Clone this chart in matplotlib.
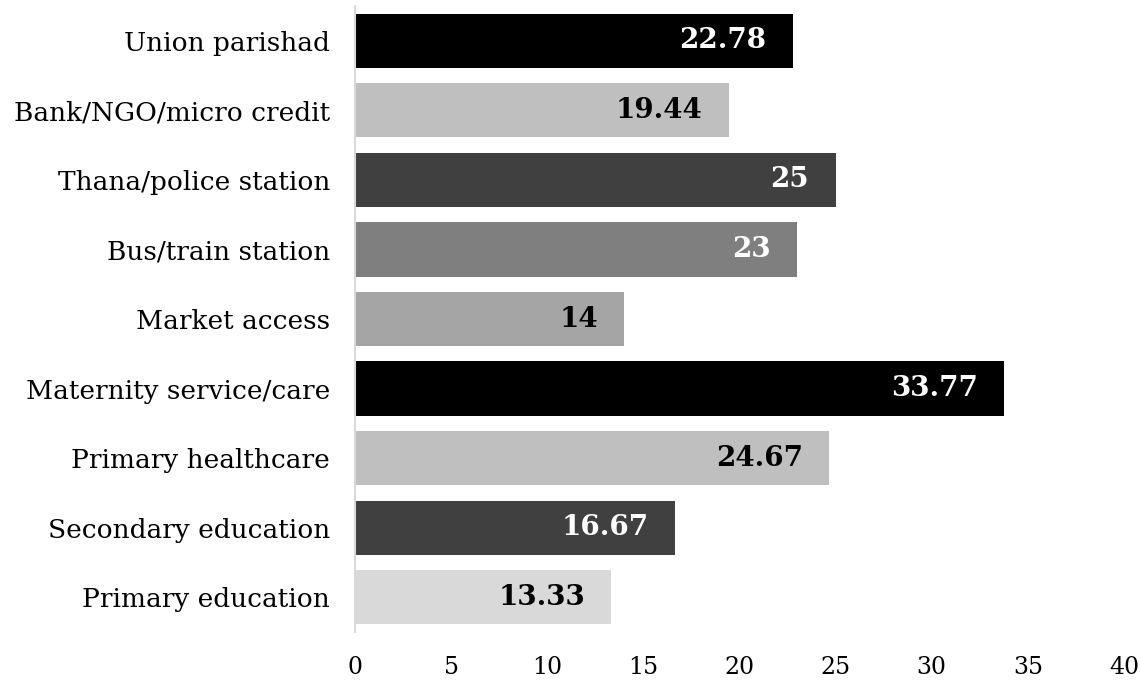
import matplotlib
matplotlib.use("Agg")
import matplotlib.pyplot as plt

categories = ["Union parishad", "Bank/NGO/micro credit", "Thana/police station",
              "Bus/train station", "Market access", "Maternity service/care",
              "Primary healthcare", "Secondary education", "Primary education"]
values = [22.78, 19.44, 25, 23, 14, 33.77, 24.67, 16.67, 13.33]
value_labels = ["22.78", "19.44", "25", "23", "14", "33.77", "24.67", "16.67", "13.33"]
bar_colors = ["#000000", "#bfbfbf", "#404040", "#7f7f7f", "#a5a5a5",
              "#000000", "#bfbfbf", "#404040", "#d9d9d9"]
text_colors = ["white", "black", "white", "white", "black",
               "white", "black", "white", "black"]
xticks = [0, 5, 10, 15, 20, 25, 30, 35, 40]

plt.rcParams['font.family'] = 'DejaVu Serif'

fig = plt.figure(figsize=(11.41, 6.82), dpi=100)
ax = fig.add_axes([0.3111, 0.0733, 0.674, 0.9179])

pos = list(range(len(categories)))
ax.barh(pos, values, height=0.78, color=bar_colors)

# value labels inside the bar end
for i, v in enumerate(values):
    ax.annotate(value_labels[i], (v, i), xytext=(-19, 0), textcoords="offset points",
                ha="right", va="center", fontsize=20, fontweight="bold",
                color=text_colors[i])

ax.set_xlim(0, 40)
ax.set_ylim(8.5, -0.5)
ax.set_yticks(pos)
ax.set_yticklabels(categories, fontsize=19)
ax.set_xticks(xticks)
ax.set_xticklabels([str(t) for t in xticks], fontsize=17)
ax.tick_params(axis="y", length=0, pad=18)
ax.tick_params(axis="x", length=0, pad=17)

for s in ["top", "right", "bottom"]:
    ax.spines[s].set_visible(False)
ax.spines["left"].set_color("#d9d9d9")
ax.spines["left"].set_linewidth(1.5)

fig.savefig("out.png", dpi=100)
